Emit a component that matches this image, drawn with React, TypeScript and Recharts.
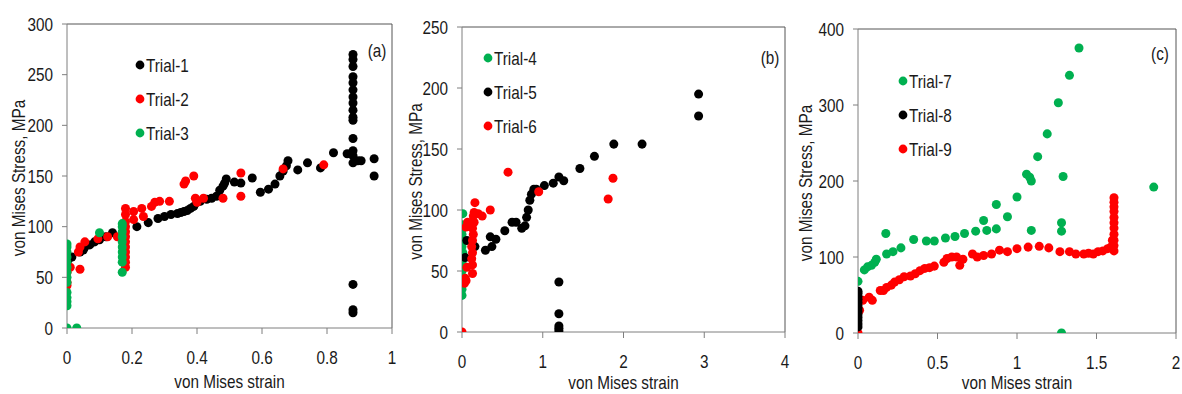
import React from "react";
import {
  ScatterChart,
  Scatter,
  XAxis,
  YAxis,
  ZAxis,
  ReferenceLine,
} from "recharts";

// ---------- Data (strain, stress) ----------
const trial1: [number, number][] = [
  [0.005, 68], [0.015, 70], [0.04, 75], [0.05, 77], [0.055, 80], [0.07, 82], [0.085, 85],
  [0.1, 87], [0.12, 90], [0.14, 94], [0.215, 100], [0.25, 104], [0.28, 108], [0.3, 110],
  [0.32, 112], [0.34, 113], [0.35, 114], [0.36, 115], [0.37, 116], [0.38, 118], [0.39, 120],
  [0.4, 124], [0.41, 125], [0.43, 127], [0.445, 128], [0.46, 130], [0.47, 136], [0.48, 140],
  [0.485, 143], [0.49, 147], [0.515, 144], [0.535, 143], [0.57, 148], [0.595, 134],
  [0.62, 137], [0.64, 142], [0.655, 150], [0.665, 155], [0.675, 160], [0.68, 165],
  [0.71, 156], [0.74, 163], [0.78, 158], [0.82, 173], [0.862, 172],
  [0.88, 270], [0.88, 265], [0.88, 258], [0.88, 248], [0.88, 242], [0.88, 235], [0.88, 228],
  [0.88, 222], [0.88, 215], [0.88, 208], [0.88, 205], [0.88, 187], [0.88, 175], [0.88, 170],
  [0.88, 163], [0.88, 43], [0.88, 18], [0.88, 15],
  [0.895, 165], [0.905, 165], [0.945, 167], [0.945, 150],
];
const trial2: [number, number][] = [
  [0, 42], [0, 45], [0, 55], [0.01, 60], [0.04, 58], [0.035, 75], [0.04, 80], [0.055, 85],
  [0.095, 88], [0.125, 90], [0.155, 90],
  [0.18, 60], [0.18, 65], [0.18, 70], [0.18, 75], [0.18, 80], [0.18, 85], [0.18, 90],
  [0.18, 95], [0.18, 100], [0.18, 105], [0.18, 112], [0.18, 118],
  [0.205, 107], [0.205, 115], [0.23, 118], [0.235, 110], [0.26, 120], [0.27, 124],
  [0.285, 125], [0.315, 125], [0.36, 142], [0.365, 145], [0.39, 150], [0.395, 128],
  [0.4, 124], [0.42, 128], [0.48, 128], [0.535, 153], [0.535, 130], [0.665, 157], [0.79, 161],
];
const trial3: [number, number][] = [
  [0, 0], [0, 22], [0, 26], [0, 30], [0, 35], [0, 45], [0, 50], [0, 55], [0, 60], [0, 65],
  [0, 70], [0, 75], [0, 80], [0, 83], [0.03, 0], [0.1, 94],
  [0.17, 55], [0.17, 65], [0.17, 70], [0.17, 75], [0.17, 80], [0.17, 85], [0.17, 90],
  [0.17, 95], [0.17, 100], [0.17, 103],
];

const trial4: [number, number][] = [
  [0, 30], [0, 35], [0, 40], [0, 45], [0, 50], [0.01, 55], [0, 60], [0.01, 65], [0, 70],
  [0.01, 75], [0, 80], [0.01, 85], [0, 88], [0.01, 97],
];
const trial5: [number, number][] = [
  [0.04, 61], [0.06, 75], [0.16, 70], [0.29, 67], [0.35, 78], [0.37, 70], [0.42, 76],
  [0.53, 83], [0.62, 90], [0.67, 90], [0.74, 85], [0.78, 87], [0.8, 94], [0.82, 100],
  [0.84, 108], [0.86, 113], [0.89, 117], [0.92, 117], [1.02, 120], [1.13, 122], [1.2, 127],
  [1.26, 124], [1.46, 134], [1.64, 144], [1.88, 154], [2.23, 154], [2.93, 195], [2.93, 177],
  [1.2, 41], [1.2, 15], [1.2, 5], [1.2, 3], [1.2, 1],
];
const trial6: [number, number][] = [
  [0, 0], [0.03, 40], [0.05, 42], [0.04, 44], [0.06, 53], [0.05, 86], [0.07, 90],
  [0.13, 48], [0.13, 55], [0.12, 60], [0.13, 65], [0.12, 70], [0.13, 75], [0.14, 80],
  [0.13, 85], [0.15, 90], [0.14, 95], [0.15, 98], [0.16, 106], [0.2, 97], [0.25, 95],
  [0.35, 100], [0.57, 131], [0.95, 115], [1.81, 109], [1.87, 126],
];

const trial7: [number, number][] = [
  [0, 68], [0.04, 83], [0.06, 87], [0.085, 89], [0.105, 93], [0.115, 97], [0.175, 131],
  [0.18, 104], [0.22, 107], [0.27, 112], [0.35, 123], [0.43, 121], [0.48, 121], [0.55, 125],
  [0.61, 127], [0.67, 131], [0.74, 134], [0.79, 148], [0.81, 135], [0.87, 137], [0.87, 169],
  [0.94, 153], [1.0, 179], [1.06, 209], [1.08, 205], [1.09, 200], [1.09, 135], [1.13, 232],
  [1.19, 262], [1.26, 303], [1.28, 145], [1.28, 134], [1.29, 206], [1.33, 339], [1.39, 375],
  [1.28, 0], [1.86, 192],
];
const trial8: [number, number][] = [
  [0, 8], [0, 12], [0, 16], [0, 20], [0, 24], [0, 28], [0, 32], [0, 36], [0, 40], [0, 44],
  [0, 48], [0, 52], [0, 55],
];
const trial9: [number, number][] = [
  [0, 0], [0.01, 30], [0.03, 43], [0.07, 47], [0.09, 43], [0.14, 56], [0.16, 56], [0.18, 60],
  [0.21, 63], [0.23, 67], [0.26, 70], [0.29, 74], [0.33, 75], [0.36, 78], [0.39, 82],
  [0.42, 85], [0.45, 86], [0.48, 88], [0.54, 93], [0.56, 98], [0.59, 100], [0.62, 100],
  [0.64, 89], [0.66, 97], [0.72, 104], [0.75, 100], [0.79, 102], [0.84, 104], [0.89, 109],
  [0.94, 107], [1.0, 111], [1.07, 113], [1.14, 114], [1.2, 112], [1.27, 107], [1.33, 107],
  [1.37, 104], [1.42, 104], [1.45, 105], [1.48, 104], [1.51, 107], [1.54, 108], [1.57, 111],
  [1.59, 113], [1.6, 122],
  [1.61, 108], [1.61, 115], [1.61, 122], [1.61, 130], [1.61, 138], [1.61, 145], [1.61, 152],
  [1.61, 160], [1.61, 166], [1.61, 172], [1.61, 178],
];

const xTicksA = [0, 0.2, 0.4, 0.6, 0.8, 1];
const yTicksA = [0, 50, 100, 150, 200, 250, 300];
const xTicksB = [0, 1, 2, 3, 4];
const yTicksB = [0, 50, 100, 150, 200, 250];
const xTicksC = [0, 0.5, 1, 1.5, 2];
const yTicksC = [0, 100, 200, 300, 400];

const BLACK = "#000000";
const RED = "#ff0000";
const GREEN = "#00b050";
const FONT = "'Liberation Sans', Arial, sans-serif";
const FS = 18;
const SX = 0.85;
const TXT = "#1a1a1a";
const AXIS = "#7f7f7f";

const toPts = (arr: [number, number][]) => arr.map(([x, y]) => ({ x, y }));

type Series = { name: string; color: string; data: [number, number][] };

type PanelProps = {
  left: number;
  width: number;
  top: number;
  bottom: number;
  yAxisWidth: number;
  right: number;
  xTicks: number[];
  yTicks: number[];
  series: Series[];
  drawOrder: number[];
  legendDotX: number;
  legendY: number;
  tag: string;
  tagX: number;
  tagY: number;
  yLabelX: number;
};

const H = 394;

const XTick = (props: any) => {
  const { x, y, payload } = props;
  return (
    <text
      transform={`translate(${x},${y}) scale(${SX},1)`}
      x={0}
      y={0}
      dy={15.5}
      textAnchor="middle"
      fontFamily={FONT}
      fontSize={FS}
      fill={TXT}
    >
      {payload.value}
    </text>
  );
};

const YTick = (props: any) => {
  const { x, y, payload } = props;
  return (
    <text
      transform={`translate(${x},${y}) scale(${SX},1)`}
      x={0}
      y={0}
      dy={6.5}
      textAnchor="end"
      fontFamily={FONT}
      fontSize={FS}
      fill={TXT}
    >
      {payload.value}
    </text>
  );
};

function Panel(p: PanelProps) {
  const xMax = p.xTicks[p.xTicks.length - 1];
  const yMax = p.yTicks[p.yTicks.length - 1];
  return (
    <div style={{ position: "absolute", left: p.left, top: 0, width: p.width, height: H }}>
      <ScatterChart
        width={p.width}
        height={H}
        margin={{ top: p.top, right: p.right, bottom: 0, left: 0 }}
      >
        <XAxis
          type="number"
          dataKey="x"
          domain={[0, xMax]}
          ticks={p.xTicks}
          allowDataOverflow
          height={H - p.bottom}
          tick={<XTick />}
          tickSize={6}
          tickMargin={14}
          axisLine={{ stroke: AXIS }}
          tickLine={{ stroke: AXIS }}
          label={{
            content: (props: any) => {
              const vb = props.viewBox;
              const cx = vb.x + vb.width / 2;
              const by = Math.min(vb.y + 60, 389);
              return (
                <text
                  transform={`translate(${cx},${by}) scale(${SX},1)`}
                  x={0}
                  y={0}
                  textAnchor="middle"
                  fontFamily={FONT}
                  fontSize={FS}
                  fill={TXT}
                >
                  von Mises strain
                </text>
              );
            },
          }}
        />
        <YAxis
          type="number"
          dataKey="y"
          domain={[0, yMax]}
          ticks={p.yTicks}
          allowDataOverflow
          width={p.yAxisWidth}
          tick={<YTick />}
          tickSize={5}
          tickMargin={9}
          axisLine={{ stroke: AXIS }}
          tickLine={{ stroke: AXIS }}
          label={{
            content: (props: any) => {
              const vb = props.viewBox;
              const cy = vb.y + vb.height / 2 + 2;
              return (
                <text
                  transform={`translate(${p.yLabelX},${cy}) rotate(-90) scale(${SX},1)`}
                  x={0}
                  y={0}
                  dy={6.5}
                  textAnchor="middle"
                  fontFamily={FONT}
                  fontSize={FS}
                  fill={TXT}
                >
                  von Mises Stress,  MPa
                </text>
              );
            },
          }}
        />
        <ZAxis range={[62, 62]} />
        <ReferenceLine y={yMax} stroke="#555" />
        <ReferenceLine x={xMax} stroke="#555" />
        {p.drawOrder.map((idx) => {
          const s = p.series[idx];
          return (
            <Scatter
              key={s.name}
              name={s.name}
              data={toPts(s.data)}
              fill={s.color}
              isAnimationActive={false}
            />
          );
        })}
      </ScatterChart>
      <svg
        width={p.width}
        height={H}
        style={{ position: "absolute", left: 0, top: 0, pointerEvents: "none" }}
      >
        {p.series.map((s, i) => (
          <g key={s.name}>
            <circle cx={p.legendDotX} cy={p.legendY + i * 34} r={4.4} fill={s.color} />
            <text
              transform={`translate(${p.legendDotX + 6},${p.legendY + i * 34}) scale(${SX},1)`}
              x={0}
              y={0}
              dy={6.5}
              fontFamily={FONT}
              fontSize={FS}
              fill={TXT}
            >
              {s.name}
            </text>
          </g>
        ))}
        <text
          transform={`translate(${p.tagX},${p.tagY}) scale(${SX},1)`}
          x={0}
          y={0}
          dy={6.5}
          textAnchor="middle"
          fontFamily={FONT}
          fontSize={FS}
          fill={TXT}
        >
          {p.tag}
        </text>
      </svg>
    </div>
  );
}

export default function App() {
  return (
    <div style={{ position: "absolute", left: 0, top: 0, width: 1182, height: 394, background: "#fff" }}>
      <Panel
        left={0}
        width={400}
        top={24}
        bottom={328}
        yAxisWidth={67}
        right={8}
        xTicks={xTicksA}
        yTicks={yTicksA}
        series={[
          { name: "Trial-1", color: BLACK, data: trial1 },
          { name: "Trial-2", color: RED, data: trial2 },
          { name: "Trial-3", color: GREEN, data: trial3 },
        ]}
        drawOrder={[0, 1, 2]}
        legendDotX={140}
        legendY={65}
        tag="(a)"
        tagX={377}
        tagY={50}
        yLabelX={18}
      />
      <Panel
        left={395}
        width={395}
        top={27}
        bottom={332}
        yAxisWidth={67}
        right={5}
        xTicks={xTicksB}
        yTicks={yTicksB}
        series={[
          { name: "Trial-4", color: GREEN, data: trial4 },
          { name: "Trial-5", color: BLACK, data: trial5 },
          { name: "Trial-6", color: RED, data: trial6 },
        ]}
        drawOrder={[0, 1, 2]}
        legendDotX={93}
        legendY={58}
        tag="(b)"
        tagX={375}
        tagY={57}
        yLabelX={20}
      />
      <Panel
        left={790}
        width={392}
        top={29}
        bottom={333}
        yAxisWidth={68}
        right={6}
        xTicks={xTicksC}
        yTicks={yTicksC}
        series={[
          { name: "Trial-7", color: GREEN, data: trial7 },
          { name: "Trial-8", color: BLACK, data: trial8 },
          { name: "Trial-9", color: RED, data: trial9 },
        ]}
        drawOrder={[0, 2, 1]}
        legendDotX={113}
        legendY={81}
        tag="(c)"
        tagX={370}
        tagY={53}
        yLabelX={15}
      />
    </div>
  );
}
